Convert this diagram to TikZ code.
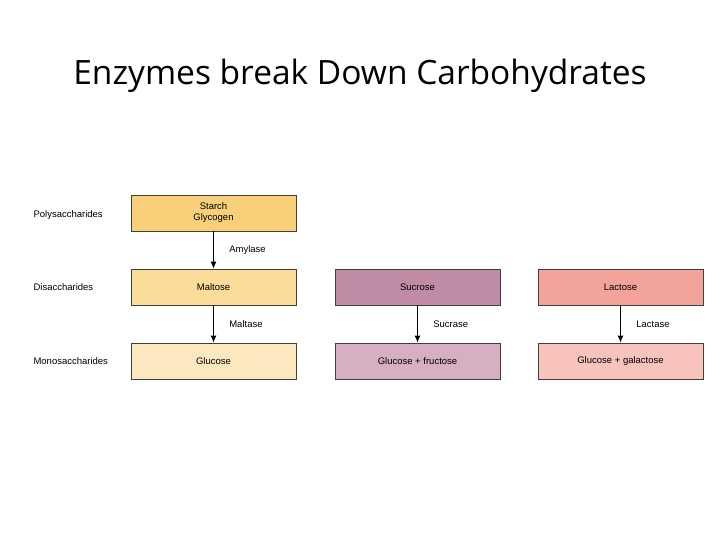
\documentclass[tikz,border=0pt]{standalone}
\usepackage{fontspec}
\setmainfont{Liberation Sans}
\newfontfamily\titlefont{Open Sans}
\usetikzlibrary{positioning,arrows.meta}
\definecolor{starchc}{HTML}{F9D07A}
\definecolor{maltc}{HTML}{FBDC98}
\definecolor{glucc}{HTML}{FCE8BF}
\definecolor{succ}{HTML}{C08BA6}
\definecolor{glufruc}{HTML}{D6AFC3}
\definecolor{lacc}{HTML}{F4A39B}
\definecolor{glugalc}{HTML}{F8C3BD}
\tikzset{
  box/.style={draw=black!75, line width=0.8pt, minimum width=165pt, minimum height=36pt,
    font=\fontsize{9.5}{11}\selectfont, align=center, inner sep=0pt},
  lvl/.style={anchor=west, font=\fontsize{9.5}{11}\selectfont},
  enz/.style={font=\fontsize{9.5}{11}\selectfont, anchor=west},
  arr/.style={-{Latex[length=7pt,width=6pt]}, line width=1pt}
}
\begin{document}
\begin{tikzpicture}[x=1pt, y=-1pt]
\useasboundingbox (0,0) rectangle (720,539);

\node[font=\titlefont\fontsize{33.5}{38}\selectfont] (title) at (360,76) {Enzymes break Down Carbohydrates};

% left column
\node[box, fill=starchc] (starch) at (213.5,213) {Starch\\Glycogen};
\node[box, fill=maltc] (maltose) at (213.5,287) {Maltose};
\node[box, fill=glucc] (glucose) at (213.5,361) {Glucose};

% middle column
\node[box, fill=succ] (sucrose) at (417.5,287) {Sucrose};
\node[box, fill=glufruc] (glufru) at (417.5,361) {Glucose + fructose};

% right column
\node[box, fill=lacc] (lactose) at (620.5,287) {Lactose};
\node[box, fill=glugalc] (glugal) at (620.5,361) {Glucose + galactose};

% levels
\node[lvl] (poly) at (30,215) {Polysaccharides};
\node[lvl] (di) at (30,287) {Disaccharides};
\node[lvl] (mono) at (30,361) {Monosaccharides};

% arrows
\draw[arr] (starch) -- node[enz, xshift=12pt] {Amylase} (maltose);
\draw[arr] (maltose) -- node[enz, xshift=12pt] {Maltase} (glucose);
\draw[arr] (sucrose) -- node[enz, xshift=12pt] {Sucrase} (glufru);
\draw[arr] (lactose) -- node[enz, xshift=12pt] {Lactase} (glugal);
\end{tikzpicture}
\end{document}
